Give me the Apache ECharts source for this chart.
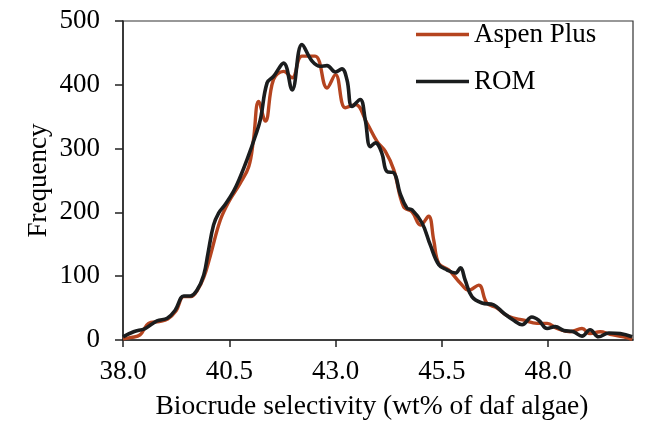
<!DOCTYPE html>
<html>
<head>
<meta charset="utf-8">
<script src="https://cdn.jsdelivr.net/npm/echarts@6/dist/echarts.min.js"></script>
<style>
  html, body { margin: 0; padding: 0; background: #fff; }
  #chart { width: 646px; height: 426px; }
</style>
</head>
<body>
<div id="chart"></div>
<script>
const xTicks = [38.0, 40.5, 43.0, 45.5, 48.0];
const yTicks = [0, 100, 200, 300, 400, 500];

const aspenX = [38.0, 38.2, 38.4, 38.6, 38.85, 39.05, 39.25, 39.43, 39.6, 39.75, 39.9, 40.05, 40.29, 40.5, 40.76,
  40.96, 41.07, 41.19, 41.35, 41.54, 41.78, 41.98, 42.21, 42.52, 42.8, 43.0, 43.23, 43.47, 43.74, 43.98,
  44.17, 44.37, 44.6, 44.8, 45.0, 45.19, 45.31, 45.43, 45.66, 45.94, 46.13, 46.37, 46.56, 46.8, 47.07,
  47.43, 47.74, 47.98, 48.21, 48.52, 48.8, 48.99, 49.23, 49.46, 49.78, 49.98];
const aspenY = [2, 4, 8, 26, 29, 33, 46, 68, 68, 78, 98, 131, 188, 218, 246,
  272, 314, 374, 343, 408, 421, 411, 445, 445, 395, 416, 364, 369, 340, 311,
  296, 267, 209, 201, 180, 194, 157, 120, 110, 89, 78, 86, 58, 50, 37,
  31, 26, 26, 18, 13, 18, 10, 13, 9, 5, 1];

const romX = [38.0, 38.25, 38.52, 38.8, 39.04, 39.23, 39.43, 39.58, 39.74, 39.9, 40.0, 40.13, 40.25, 40.4, 40.6,
  40.76, 40.92, 41.11, 41.23, 41.39, 41.54, 41.78, 41.98, 42.21, 42.45, 42.64, 42.8, 43.0, 43.15, 43.27,
  43.39, 43.58, 43.7, 43.82, 43.94, 44.09, 44.21, 44.37, 44.52, 44.68, 44.8, 45.04, 45.23, 45.43, 45.62,
  45.82, 45.94, 46.05, 46.21, 46.45, 46.72, 46.96, 47.19, 47.39, 47.62, 47.78, 47.98, 48.17, 48.37, 48.6,
  48.8, 48.99, 49.19, 49.43, 49.7, 49.98];
const romY = [5, 13, 18, 30, 34, 47, 69, 69, 78, 102, 136, 180, 199, 212, 233,
  256, 283, 319, 345, 403, 413, 434, 392, 463, 437, 429, 430, 420, 425, 408,
  366, 377, 345, 303, 309, 293, 264, 262, 230, 207, 204, 183, 149, 118, 110,
  105, 113, 94, 68, 58, 55, 42, 31, 24, 36, 31, 18, 21, 15, 13,
  6, 16, 5, 11, 10, 5];

const pairs = (xs, ys) => xs.map((x, i) => [x, ys[i]]);
const font = "'Liberation Serif', 'Times New Roman', serif";

const chart = echarts.init(document.getElementById('chart'));
chart.setOption({
  animation: false,
  grid: {
    left: 123, right: 13, top: 21, bottom: 86,
    show: true, borderColor: '#333', borderWidth: 1.2
  },
  legend: {
    orient: 'vertical',
    left: 411, top: 16,
    itemWidth: 53, itemHeight: 3.5, itemGap: 20,
    icon: 'rect',
    textStyle: { fontFamily: font, fontSize: 27, color: '#000', lineHeight: 27 },
    data: ['Aspen Plus', 'ROM']
  },
  xAxis: {
    type: 'value',
    min: 38, max: 50, interval: 2.5,
    name: 'Biocrude selectivity (wt% of daf algae)',
    nameLocation: 'middle', nameGap: 53,
    nameTextStyle: { fontFamily: font, fontSize: 27.5, color: '#000', padding: [0, 12, 0, 0] },
    axisLine: { lineStyle: { color: '#222', width: 1.5 } },
    axisTick: { inside: false, length: 7, lineStyle: { color: '#222', width: 1.5 }, customValues: xTicks },
    axisLabel: {
      fontFamily: font, fontSize: 27, color: '#000', margin: 18,
      customValues: xTicks,
      formatter: v => v.toFixed(1)
    },
    splitLine: { show: false }
  },
  yAxis: {
    type: 'value',
    min: 0, max: 500, interval: 100,
    name: 'Frequency',
    nameLocation: 'middle', nameGap: 71, nameRotate: 90, nameMoveOverlap: false,
    nameTextStyle: { fontFamily: font, fontSize: 27, color: '#000' },
    axisLine: { show: true, lineStyle: { color: '#222', width: 1.5 } },
    axisTick: { show: true, inside: false, length: 8, lineStyle: { color: '#222', width: 1.5 } },
    axisLabel: { fontFamily: font, fontSize: 27, color: '#000', margin: 23, customValues: yTicks },
    splitLine: { show: false }
  },
  series: [
    {
      name: 'Aspen Plus', type: 'line', smooth: 0.4, symbol: 'none',
      data: pairs(aspenX, aspenY),
      itemStyle: { color: '#b5441f' },
      lineStyle: { color: '#b5441f', width: 3.4 }
    },
    {
      name: 'ROM', type: 'line', smooth: 0.4, symbol: 'none',
      data: pairs(romX, romY),
      itemStyle: { color: '#1b1d1e' },
      lineStyle: { color: '#1b1d1e', width: 3.6 }
    }
  ]
});
</script>
</body>
</html>
